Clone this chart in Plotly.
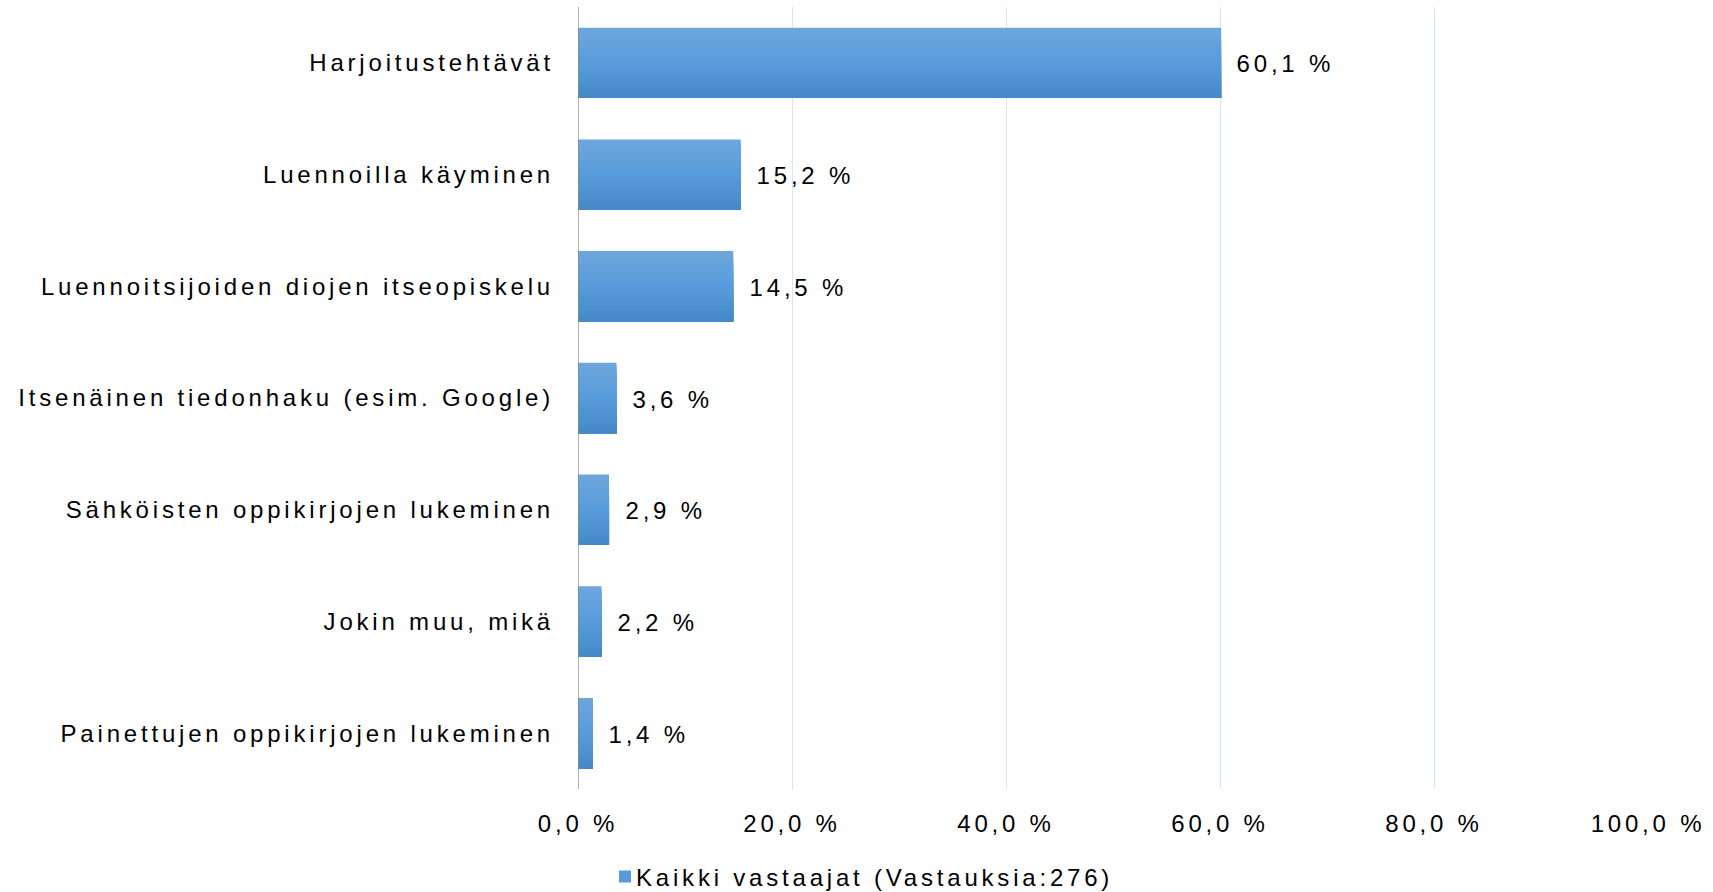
import plotly.graph_objects as go

categories = [
    "Harjoitustehtävät",
    "Luennoilla käyminen",
    "Luennoitsijoiden diojen itseopiskelu",
    "Itsenäinen tiedonhaku (esim. Google)",
    "Sähköisten oppikirjojen lukeminen",
    "Jokin muu, mikä",
    "Painettujen oppikirjojen lukeminen",
]
values = [60.1, 15.2, 14.5, 3.6, 2.9, 2.2, 1.4]
series_name = "Kaikki vastaajat (Vastauksia:276)"
x_ticks = [0, 20, 40, 60, 80, 100]


def fmt(v):
    return f"{v:.1f}".replace(".", ",") + " %"


FONT = "Liberation Sans, Arial, sans-serif"
FS = 24
LS = 3.8  # letter spacing in px
W, H = 1713, 892
L, R, T, B = 578, 65, 7, 103
BARW = 0.63

# vertical gradient stops (top -> bottom)
stops = [(0.0, (110, 166, 220)), (0.5, (88, 156, 220)), (1.0, (68, 136, 200))]


def grad(t):
    for (t0, c0), (t1, c1) in zip(stops[:-1], stops[1:]):
        if t <= t1:
            f = (t - t0) / (t1 - t0)
            return "rgb(%d,%d,%d)" % tuple(round(a + (b - a) * f) for a, b in zip(c0, c1))
    return "rgb(%d,%d,%d)" % stops[-1][1]


fig = go.Figure()
N = 24
for i in range(N):
    t = (i + 0.5) / N
    off = -BARW / 2 + i * BARW / N
    fig.add_trace(go.Bar(
        y=categories, x=values, orientation="h", name=series_name,
        marker=dict(color=grad(t), line=dict(width=0)),
        width=BARW / 2 - off, offset=off,
        showlegend=(i == N // 2), hoverinfo="skip" if i != N // 2 else None,
    ))

annotations = []
for c, v in zip(categories, values):
    txt = fmt(v)
    annotations.append(dict(
        x=v, y=c, xref="x", yref="y", text=txt,
        showarrow=False, xanchor="left", yanchor="middle",
        xshift=14 + len(txt) * LS / 2, yshift=-1,
        font=dict(family=FONT, size=FS, color="#000000"),
    ))

fig.update_layout(
    width=W, height=H,
    margin=dict(l=L, r=R, t=T, b=B, pad=0, autoexpand=False),
    paper_bgcolor="white", plot_bgcolor="white",
    barmode="overlay",
    showlegend=True,
    legend=dict(orientation="h", x=(613 - L - 8) / (W - L - R), xanchor="left",
                y=-(877 - (H - B)) / (H - T - B), yanchor="middle",
                font=dict(family=FONT, size=FS, color="#000000"),
                entrywidth=560, bgcolor="rgba(0,0,0,0)"),
    annotations=annotations,
    xaxis=dict(range=[0, 100], tickvals=x_ticks, ticktext=[fmt(v) for v in x_ticks],
               showgrid=True, gridcolor="#dbe5f1", gridwidth=1, zeroline=False,
               showline=False, ticks="", ticklabelstandoff=18,
               tickfont=dict(family=FONT, size=FS, color="#000000")),
    yaxis=dict(autorange="reversed", showgrid=False, zeroline=False,
               showline=False, ticks="", ticklabelstandoff=23,
               tickfont=dict(family=FONT, size=FS, color="#000000")),
    shapes=[dict(type="line", xref="x", yref="paper", x0=0, x1=0, y0=0, y1=1,
                 line=dict(color="#878787", width=1.3))],
)

post = """
var s = document.createElement('style');
s.innerHTML = 'html, body { margin: 0; padding: 0; overflow: hidden; } .main-svg text { letter-spacing: %spx; } .legendtext { transform: translateX(-9px); }';
document.head.appendChild(s);
""" % LS
fig.write_html("out.html", post_script=post, config={"displayModeBar": False})
